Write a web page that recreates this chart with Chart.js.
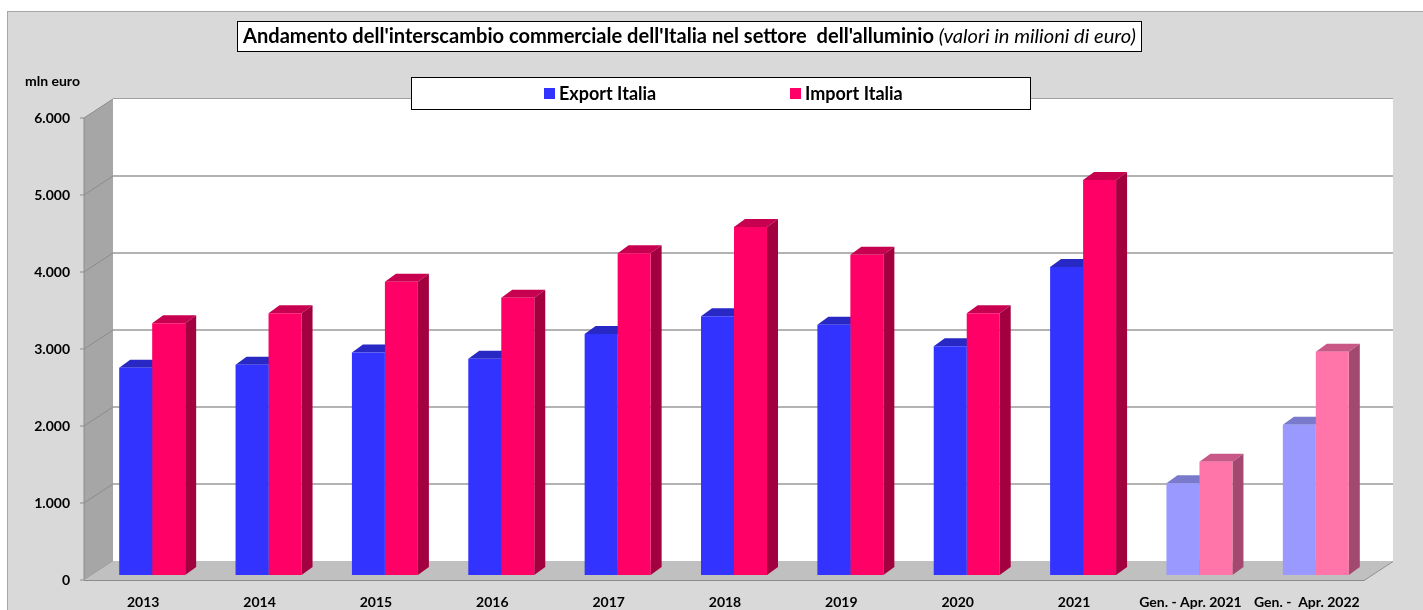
<!DOCTYPE html>
<html>
<head>
<meta charset="utf-8">
<script src="https://cdn.jsdelivr.net/npm/chart.js@4/dist/chart.umd.min.js"></script>
<style>
  html, body { margin: 0; padding: 0; background: #fff; }
  canvas { display: block; }
</style>
</head>
<body>
<canvas id="chart" width="1423" height="610"></canvas>
<script>
// dati (milioni di euro)
var categories = ['2013', '2014', '2015', '2016', '2017', '2018', '2019', '2020', '2021',
                  'Gen. - Apr. 2021', 'Gen. -  Apr. 2022'];
var exportItalia = [2690, 2730, 2890, 2810, 3130, 3360, 3250, 2970, 4000, 1190, 1950];
var importItalia = [3270, 3400, 3810, 3600, 4180, 4520, 4160, 3400, 5130, 1470, 2900];
var yTicks = [0, 1000, 2000, 3000, 4000, 5000, 6000];

var titolo = "Andamento dell'interscambio commerciale dell'Italia nel settore  dell'alluminio";
var sottotitolo = "(valori in milioni di euro)";
var unita = 'mln euro';

var FONT = "Lato, 'Liberation Sans', sans-serif";

// colori: gli ultimi due periodi sono piu chiari
function colori(n, pieno, chiaro) {
  var out = [];
  for (var i = 0; i < n; i++) out.push(i < 9 ? pieno : chiaro);
  return out;
}

// offset 3D (px)
var FX = -10, FY = 5;    // spigolo anteriore
var BX = 19, BY = -14;   // parete di fondo
var DX = 11, DY = 8;     // profondita barre

function fmt(v) {
  return String(v).replace(/\B(?=(\d{3})+(?!\d))/g, '.');
}

var scena3d = {
  id: 'scena3d',
  beforeDraw: function(chart) {
    var ctx = chart.ctx, area = chart.chartArea, y = chart.scales.y;
    var x0 = area.left, x1 = area.right;
    var yTop = y.getPixelForValue(yTicks[yTicks.length - 1]);
    var yBot = y.getPixelForValue(0);
    ctx.save();
    ctx.fillStyle = '#fff';
    ctx.fillRect(0, 0, chart.width, chart.height);
    // cornice
    ctx.fillStyle = '#d9d9d9';
    ctx.fillRect(7, 11, chart.width, chart.height);
    ctx.strokeStyle = '#a6a6a6';
    ctx.lineWidth = 1;
    ctx.strokeRect(7.5, 11.5, chart.width, chart.height);

    // parete di fondo
    ctx.fillStyle = '#fff';
    ctx.fillRect(x0 + BX, yTop + BY, x1 - x0, yBot - yTop);
    ctx.strokeStyle = '#a0a0a0';
    ctx.beginPath();
    ctx.moveTo(x0 + BX, yTop + BY - 0.5);
    ctx.lineTo(x1 + BX, yTop + BY - 0.5);
    ctx.stroke();

    // griglia sul fondo
    ctx.strokeStyle = '#9a9a9a';
    ctx.lineWidth = 1.5;
    yTicks.forEach(function(v) {
      if (v === 0 || v === yTicks[yTicks.length - 1]) return;
      var py = y.getPixelForValue(v) + BY;
      ctx.beginPath();
      ctx.moveTo(x0 + BX, py);
      ctx.lineTo(x1 + BX, py);
      ctx.stroke();
    });

    // parete sinistra
    ctx.fillStyle = '#a6a6a6';
    ctx.beginPath();
    ctx.moveTo(x0 + FX, yTop + FY);
    ctx.lineTo(x0 + BX, yTop + BY);
    ctx.lineTo(x0 + BX, yBot + BY);
    ctx.lineTo(x0 + FX, yBot + FY);
    ctx.closePath();
    ctx.fill();
    ctx.strokeStyle = '#8c8c8c';
    ctx.lineWidth = 1;
    yTicks.forEach(function(v) {
      var py = y.getPixelForValue(v);
      ctx.beginPath();
      ctx.moveTo(x0 + FX - 4, py + FY);
      ctx.lineTo(x0 + FX, py + FY);
      ctx.lineTo(x0 + BX, py + BY);
      ctx.stroke();
    });
    ctx.beginPath();
    ctx.moveTo(x0 + FX, yTop + FY);
    ctx.lineTo(x0 + FX, yBot + FY);
    ctx.stroke();

    // pavimento
    ctx.fillStyle = '#c0c0c0';
    ctx.beginPath();
    ctx.moveTo(x0 + FX, yBot + FY);
    ctx.lineTo(x0 + BX, yBot + BY);
    ctx.lineTo(x1 + BX, yBot + BY);
    ctx.lineTo(x1 + FX, yBot + FY);
    ctx.closePath();
    ctx.fill();
    ctx.strokeStyle = '#8c8c8c';
    ctx.beginPath();
    ctx.moveTo(x0 + FX, yBot + FY + 0.5);
    ctx.lineTo(x1 + FX, yBot + FY + 0.5);
    ctx.lineTo(x1 + BX, yBot + BY + 0.5);
    ctx.stroke();
    ctx.restore();
  },
  beforeDatasetsDraw: function(chart) {
    var ctx = chart.ctx;
    ctx.save();
    chart.data.datasets.forEach(function(ds, di) {
      var meta = chart.getDatasetMeta(di);
      meta.data.forEach(function(bar, i) {
        var p = bar.getProps(['x', 'y', 'base', 'width'], true);
        var l = p.x - p.width / 2, r = p.x + p.width / 2;
        // faccia superiore
        ctx.fillStyle = ds.topColor[i];
        ctx.beginPath();
        ctx.moveTo(l, p.y);
        ctx.lineTo(l + DX, p.y - DY);
        ctx.lineTo(r + DX, p.y - DY);
        ctx.lineTo(r, p.y);
        ctx.closePath();
        ctx.fill();
        // faccia laterale
        ctx.fillStyle = ds.sideColor[i];
        ctx.beginPath();
        ctx.moveTo(r, p.y);
        ctx.lineTo(r + DX, p.y - DY);
        ctx.lineTo(r + DX, p.base - DY);
        ctx.lineTo(r, p.base);
        ctx.closePath();
        ctx.fill();
      });
    });
    ctx.restore();
  },
  afterDraw: function(chart) {
    var ctx = chart.ctx;
    ctx.save();
    // titolo
    ctx.fillStyle = '#fff';
    ctx.fillRect(237, 21, 904, 30);
    ctx.strokeStyle = '#000';
    ctx.lineWidth = 1;
    ctx.strokeRect(237.5, 21.5, 904, 30);
    var size = 17;
    ctx.font = 'bold ' + size + 'px ' + FONT;
    var w1 = ctx.measureText(titolo + ' ').width;
    ctx.font = 'italic ' + size + 'px ' + FONT;
    var w2 = ctx.measureText(sottotitolo).width;
    size = size * 893 / (w1 + w2);
    ctx.textBaseline = 'middle';
    ctx.textAlign = 'left';
    ctx.fillStyle = '#000';
    ctx.font = 'bold ' + size + 'px ' + FONT;
    ctx.fillText(titolo + ' ', 243, 37);
    var wb = ctx.measureText(titolo + ' ').width;
    ctx.font = 'italic ' + size + 'px ' + FONT;
    ctx.fillText(sottotitolo, 243 + wb, 37);

    // unita di misura
    ctx.font = 'bold 14px ' + FONT;
    ctx.fillText(unita, 25, 81);

    // legenda
    ctx.fillStyle = '#fff';
    ctx.fillRect(411, 77, 619, 32);
    ctx.strokeStyle = '#000';
    ctx.strokeRect(411.5, 77.5, 619, 32);
    var pos = [544, 790];
    ctx.font = 'bold 18px ' + FONT;
    chart.data.datasets.forEach(function(ds, i) {
      ctx.fillStyle = ds.backgroundColor[0];
      ctx.fillRect(pos[i], 88, 11, 11);
      ctx.fillStyle = '#000';
      ctx.fillText(ds.label, pos[i] + 15, 94);
    });
    ctx.restore();
  }
};

Chart.defaults.font.family = FONT;
Chart.defaults.color = '#000';

new Chart(document.getElementById('chart'), {
  type: 'bar',
  data: {
    labels: categories,
    datasets: [{
      label: 'Export Italia',
      data: exportItalia,
      backgroundColor: colori(categories.length, '#3333ff', '#9999ff'),
      topColor: colori(categories.length, '#2828c4', '#7a7acc'),
      sideColor: colori(categories.length, '#1f1f99', '#6a6ab0'),
      borderWidth: 0
    }, {
      label: 'Import Italia',
      data: importItalia,
      backgroundColor: colori(categories.length, '#ff0066', '#ff74a9'),
      topColor: colori(categories.length, '#c80050', '#c85888'),
      sideColor: colori(categories.length, '#a3003f', '#a3496f'),
      borderWidth: 0
    }]
  },
  options: {
    responsive: false,
    animation: false,
    events: [],
    layout: { padding: { left: 20, right: 49, top: 113, bottom: 0 } },
    plugins: {
      legend: { display: false },
      title: { display: false },
      tooltip: { enabled: false }
    },
    datasets: {
      bar: { categoryPercentage: 0.567, barPercentage: 1 }
    },
    scales: {
      x: {
        grid: { display: false, drawTicks: false },
        border: { display: false },
        ticks: {
          autoSkip: false,
          maxRotation: 0,
          padding: 19,
          labelOffset: -9,
          font: { size: 14, weight: 'bold' }
        },
        afterFit: function(s) { s.height = 35; }
      },
      y: {
        min: 0,
        max: 6000,
        grid: { display: false, drawTicks: false },
        border: { display: false },
        afterBuildTicks: function(s) {
          s.ticks = yTicks.map(function(v) { return { value: v }; });
        },
        ticks: {
          padding: 24,
          labelOffset: 5,
          font: { size: 14, weight: 'bold' },
          callback: function(v) { return fmt(v); }
        },
        afterFit: function(s) { s.width = 74; }
      }
    }
  },
  plugins: [scena3d]
});
</script>
</body>
</html>
